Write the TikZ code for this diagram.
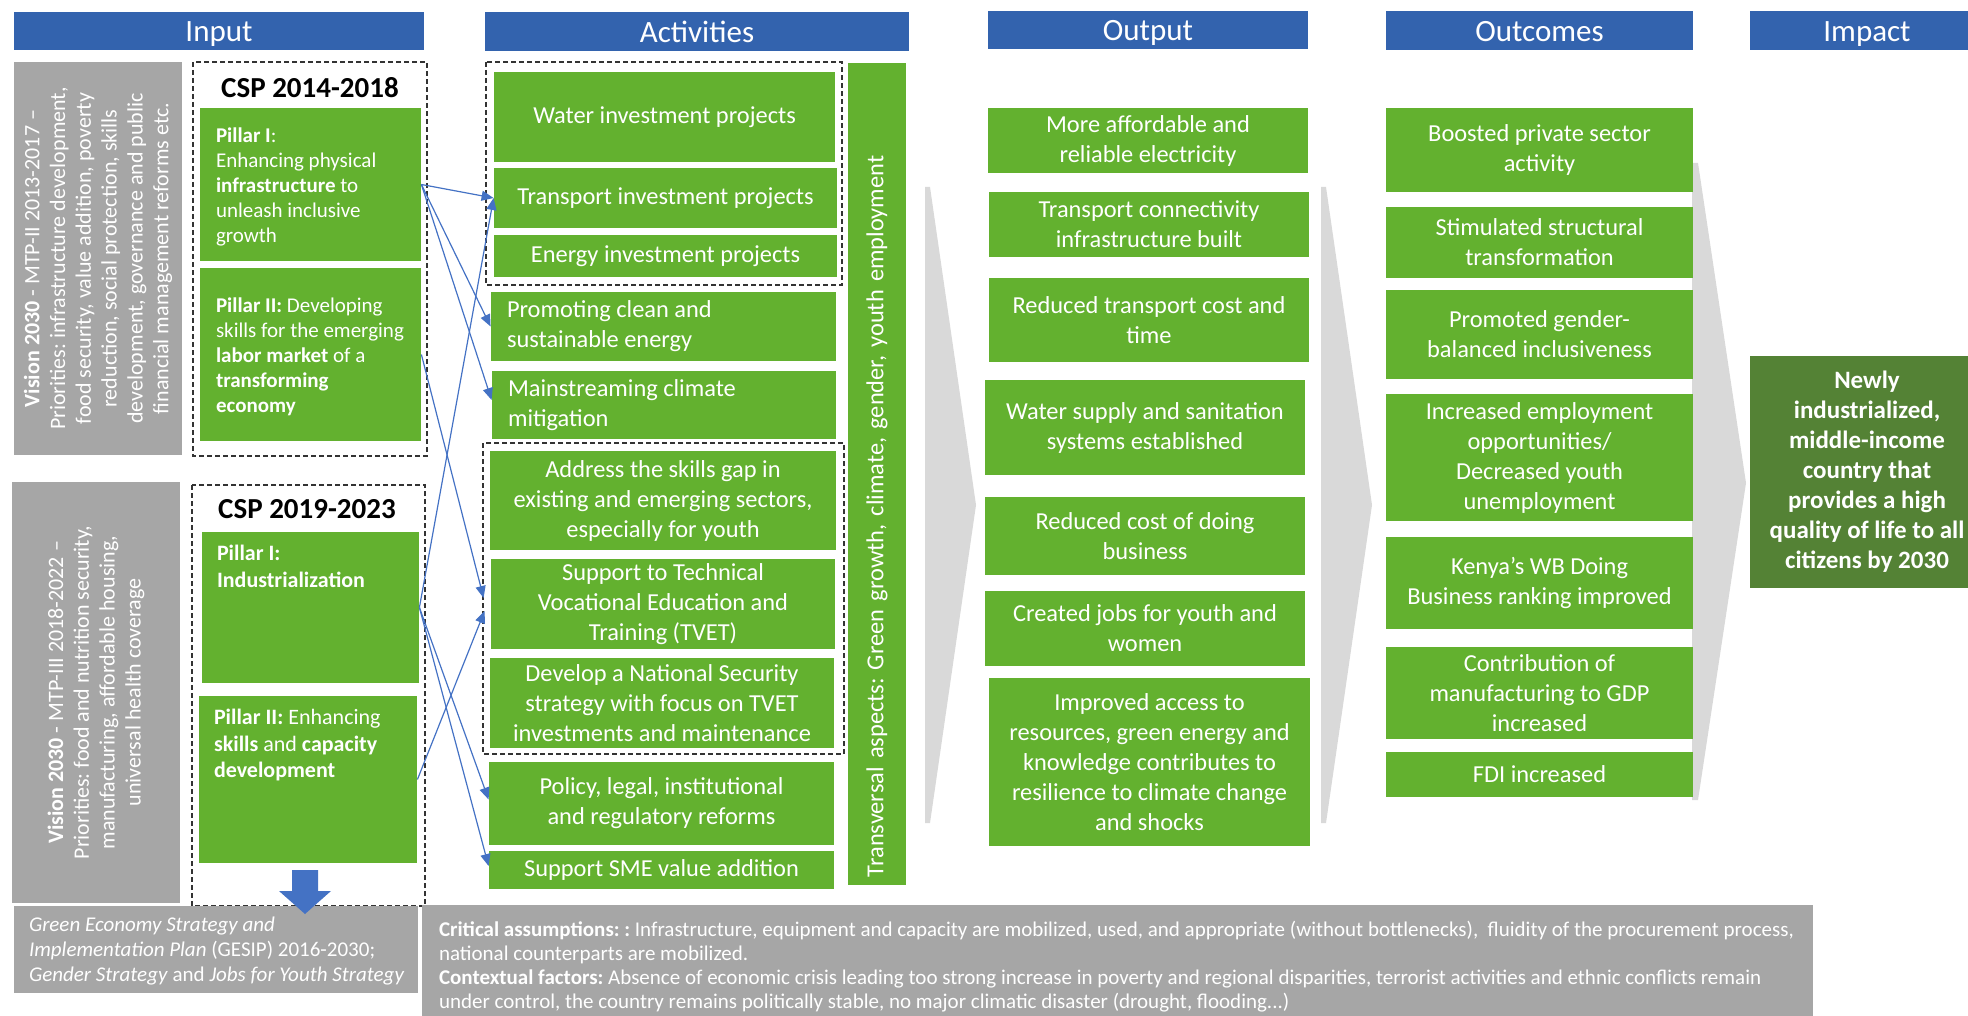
\documentclass[tikz,border=0pt]{standalone}
\usepackage{fontspec}
\setmainfont{Carlito}
\usepackage{tikz}
\usetikzlibrary{arrows.meta,calc}
\frenchspacing

\definecolor{hdrblue}{RGB}{51,99,174}
\definecolor{boxgreen}{RGB}{99,177,47}
\definecolor{impgreen}{RGB}{84,130,53}
\definecolor{visgray}{RGB}{166,166,166}
\definecolor{chevgray}{RGB}{217,217,217}
\definecolor{linkblue}{RGB}{68,114,196}

\tikzset{
  wh/.style 2 args={minimum width=#1*0.5pt,minimum height=#2*0.5pt},
  hdr/.style={fill=hdrblue,text=white,inner sep=0pt,text height=15pt,text depth=4pt,font=\fontsize{15.5}{18}\selectfont},
  gbox/.style={fill=boxgreen,text=white,inner sep=0pt,align=center,font=\fontsize{12.2}{15}\selectfont},
  pbox/.style={fill=boxgreen,inner sep=0pt},
  ptxt/.style={text=white,inner sep=0pt,align=left,font=\fontsize{10.5}{12.5}\selectfont},
  vis/.style={fill=visgray,text=white,rotate=90,inner sep=0pt,align=center,font=\fontsize{11}{12.9}\selectfont},
  csp/.style={inner sep=0pt,font=\fontsize{14.5}{17}\selectfont\bfseries},
  dashbox/.style={draw=black!80,line width=0.6pt,dash pattern=on 2.5pt off 1.5pt},
  chev/.style={fill=chevgray},
  link/.style={draw=linkblue,line width=0.6pt,-{Triangle[length=6pt,width=5pt]}},
  note/.style={fill=visgray,inner sep=0pt},
  ntxt/.style={text=white,inner sep=0pt,align=left,font=\fontsize{10.5}{12}\selectfont}
}

\begin{document}
\begin{tikzpicture}[x=0.5pt,y=-0.5pt]
\useasboundingbox (0,0) rectangle (1968,1016);

% chevrons between the columns
\fill[chev] (925,187)--(930,187)--(976,505)--(930,823)--(925,823)--cycle;
\fill[chev] (1321,187)--(1326,187)--(1372,505)--(1326,823)--(1321,823)--cycle;
\fill[chev] (1692,163)--(1698,163)--(1746,483)--(1698,800)--(1692,800)--cycle;

% column headers
\node[hdr,wh={410}{38}] (hin) at (219,31) {Input};
\node[hdr,wh={424}{39}] (hact) at (697,31.5) {Activities};
\node[hdr,wh={320}{38}] (hout) at (1148,30) {Output};
\node[hdr,wh={307}{39}] (hoc) at (1539.5,30.5) {Outcomes};
\node[hdr,wh={234}{39}] (him) at (1867,30.5) {Impact};

% input
\node[vis,wh={393}{168}] (vis1) at (98,258.5) {\textbf{Vision 2030} - MTP-II 2013-2017 --\\Priorities: infrastructure development,\\food security, value addition, poverty\\reduction, social protection, skills\\development, governance and public\\financial management reforms etc.};
\node[vis,wh={421}{168}] (vis2) at (96,692.5) {\textbf{Vision 2030} - MTP-III 2018-2022 --\\Priorities: food and nutrition security,\\manufacturing, affordable housing,\\universal health coverage};

\draw[dashbox] (193,62) rectangle (427,456);
\node[csp] (csp1) at (310,88) {CSP 2014-2018};
\node[pbox,wh={221}{153}] (p1a) at (310.5,184.5) {};
\node[ptxt,anchor=west] (p1a-t) at ($(p1a.west)+(16,2)$) {\textbf{Pillar I}:\\Enhancing physical\\\textbf{infrastructure} to\\unleash inclusive\\growth};
\node[pbox,wh={221}{173}] (p2a) at (310.5,354.5) {};
\node[ptxt,anchor=west] (p2a-t) at ($(p2a.west)+(16,2)$) {\textbf{Pillar II:} Developing\\skills for the emerging\\\textbf{labor market} of a\\\textbf{transforming}\\\textbf{economy}};

\draw[dashbox] (192,485) rectangle (425,906);
\node[csp] (csp2) at (307,509.5) {CSP 2019-2023};
\node[pbox,wh={217}{151}] (p1b) at (310.5,607.5) {};
\node[ptxt,anchor=north west,font=\fontsize{11}{13.3}\selectfont] (p1b-t) at ($(p1b.north west)+(15,13)$) {\textbf{Pillar I:}\\\textbf{Industrialization}};
\node[pbox,wh={218}{167}] (p2b) at (308,779.5) {};
\node[ptxt,anchor=north west,font=\fontsize{11}{13.3}\selectfont] (p2b-t) at ($(p2b.north west)+(15,13)$) {\textbf{Pillar II:} Enhancing\\\textbf{skills} and \textbf{capacity}\\\textbf{development}};

% activities
\draw[dashbox] (486,62) rectangle (842,285);
\node[gbox,wh={341}{90}] (water) at (664.5,117) {Water investment projects};
\node[gbox,wh={343}{60}] (trans) at (665.5,198) {Transport investment projects};
\node[gbox,wh={343}{42}] (energy) at (665.5,256) {Energy investment projects};
\node[pbox,wh={345}{69}] (promo) at (663.5,326.5) {};
\node[ptxt,anchor=west,font=\fontsize{12.2}{15}\selectfont] (promo-t) at ($(promo.west)+(16,0)$) {Promoting clean and\\sustainable energy};
\node[pbox,wh={344}{68}] (mains) at (664,405) {};
\node[ptxt,anchor=west,font=\fontsize{12.2}{15}\selectfont] (mains-t) at ($(mains.west)+(16,0)$) {Mainstreaming climate\\mitigation};

\draw[dashbox] (483,443) rectangle (844,754);
\node[gbox,wh={346}{99}] (skills) at (663,500.5) {Address the skills gap in\\existing and emerging sectors,\\especially for youth};
\node[gbox,wh={344}{90}] (tvet) at (663,604) {Support to Technical\\Vocational Education and\\Training (TVET)};
\node[gbox,wh={344}{90}] (nsec) at (662,703) {Develop a National Security\\strategy with focus on TVET\\investments and maintenance};
\node[gbox,wh={345}{83}] (policy) at (661.5,803.5) {Policy, legal, institutional\\and regulatory reforms};
\node[gbox,wh={345}{38}] (sme) at (661.5,870) {Support SME value addition};

\node[gbox,rotate=90,wh={822}{58},text width=403pt,inner xsep=4pt,align=left] (transv) at (877,474) {Transversal aspects: Green growth, climate, gender, youth employment};

% output
\node[gbox,wh={320}{65}] (o1) at (1148,140.5) {More affordable and\\reliable electricity};
\node[gbox,wh={320}{65}] (o2) at (1149,224.5) {Transport connectivity\\infrastructure built};
\node[gbox,wh={320}{84}] (o3) at (1149,320) {Reduced transport cost and\\time};
\node[gbox,wh={320}{95}] (o4) at (1145,427.5) {Water supply and sanitation\\systems established};
\node[gbox,wh={320}{78}] (o5) at (1145,536) {Reduced cost of doing\\business};
\node[gbox,wh={320}{75}] (o6) at (1145,628.5) {Created jobs for youth and\\women};
\node[gbox,wh={321}{168}] (o7) at (1149.5,762) {Improved access to\\resources, green energy and\\knowledge contributes to\\resilience to climate change\\and shocks};

% outcomes
\node[gbox,wh={307}{84}] (c1) at (1539.5,150) {Boosted private sector\\activity};
\node[gbox,wh={307}{71}] (c2) at (1539.5,242.5) {Stimulated structural\\transformation};
\node[gbox,wh={307}{89}] (c3) at (1539.5,334.5) {Promoted gender-\\balanced inclusiveness};
\node[gbox,wh={307}{127}] (c4) at (1539.5,457.5) {Increased employment\\opportunities/\\Decreased youth\\unemployment};
\node[gbox,wh={307}{92}] (c5) at (1539.5,583) {Kenya’s WB Doing\\Business ranking improved};
\node[gbox,wh={307}{92}] (c6) at (1539.5,693) {Contribution of\\manufacturing to GDP\\increased};
\node[gbox,wh={307}{45}] (c7) at (1539.5,774.5) {FDI increased};

% impact
\node[gbox,fill=impgreen,wh={234}{232},font=\fontsize{12.5}{15}\selectfont\bfseries] (imp) at (1867,472) {Newly\\industrialized,\\middle-income\\country that\\provides a high\\quality of life to all\\citizens by 2030};

% pillars to activities
\draw[link] (p1a.east) -- (trans.west);
\draw[link] (p1a.east) -- (promo.west);
\draw[link] (p1a.east) -- ([yshift=2.5pt]mains.west);
\draw[link] (p2a.east) -- ([xshift=-3.5pt,yshift=3pt]tvet.west);
\draw[link] (p1b.east) -- (trans.west);
\draw[link] (p1b.east) -- ([yshift=2pt]policy.west);
\draw[link] (p1b.east) -- ([yshift=2pt]sme.west);
\draw[link] (p2b.east) -- ([xshift=-3pt,yshift=-3.5pt]tvet.west);

% strategies and assumptions
\node[note,wh={404}{87}] (gesip) at (216,949.5) {};
\node[ntxt,anchor=west,font=\fontsize{10.5}{12.5}\selectfont] (gesip-t) at ($(gesip.west)+(15,1)$) {\textit{Green Economy Strategy and}\\\textit{Implementation Plan} (GESIP) 2016-2030;\\\textit{Gender Strategy} and \textit{Jobs for Youth Strategy}};
\fill[linkblue] (292,870)--(318,870)--(318,891)--(331,891)--(305,914)--(279,891)--(292,891)--cycle;

\node[note,wh={1391}{111}] (crit) at (1117.5,960.5) {};
\node[ntxt,anchor=north west] (crit-t) at ($(crit.north west)+(17,16)$) {\textbf{Critical assumptions: :} Infrastructure, equipment and capacity are mobilized, used, and appropriate (without bottlenecks),\ \ fluidity of the procurement process,\\national counterparts are mobilized.\\\textbf{Contextual factors:} Absence of economic crisis leading too strong increase in poverty and regional disparities, terrorist activities and ethnic conflicts remain\\under control, the country remains politically stable, no major climatic disaster (drought, flooding...)};
\end{tikzpicture}
\end{document}
